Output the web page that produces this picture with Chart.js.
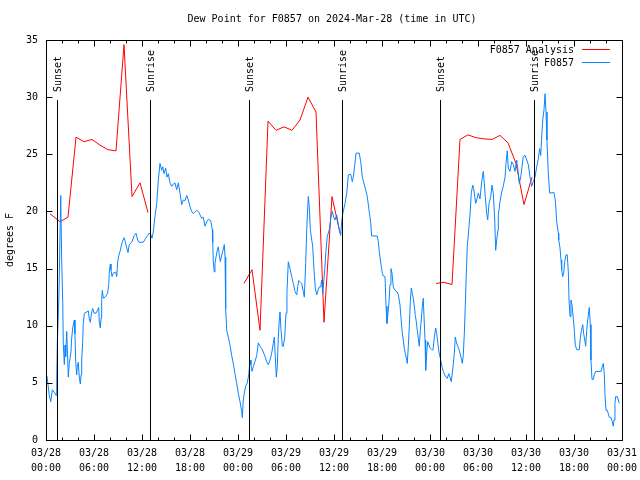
<!DOCTYPE html>
<html>
<head>
<meta charset="utf-8">
<title>Dew Point for F0857</title>
<script src="https://cdn.jsdelivr.net/npm/chart.js@4.4.1/dist/chart.umd.min.js"></script>
<style>
  html, body { margin: 0; padding: 0; background: #fff; }
  canvas { display: block; }
</style>
</head>
<body>
<canvas id="chart-dewpoint" width="640" height="480"></canvas>
<script>
// hours since 2024-03-28 00:00 UTC
var xTickDates = ["03/28", "03/28", "03/28", "03/28", "03/29", "03/29", "03/29", "03/29", "03/30", "03/30", "03/30", "03/30", "03/31"];
var xTickTimes = ["00:00", "06:00", "12:00", "18:00", "00:00", "06:00", "12:00", "18:00", "00:00", "06:00", "12:00", "18:00", "00:00"];

var sunsetHours = [1.4, 25.35, 49.3];
var sunriseHours = [13.04, 37.03, 61.02];

// F0857 Analysis (null = gap between runs)
var analysisHours = [
  0.5, 1.75, 2.75, 3.75, 4.75, 5.75, 6.75, 7.75, 8.75, 9.75, 10.75, 11.75, 12.75,
  18,
  24.75, 25.75, 26.75, 27.75, 28.75, 29.75, 30.75, 31.75, 32.75, 33.75, 34.75, 35.75, 36.75,
  43,
  48.75, 49.75, 50.75, 51.75, 52.75, 53.75, 54.75, 55.75, 56.75, 57.75, 58.75, 59.75, 60.75
];
var analysisDew = [
  19.8, 19.1, 19.5, 26.5, 26.1, 26.3, 25.8, 25.4, 25.3, 34.6, 21.3, 22.5, 19.9,
  null,
  13.7, 14.9, 9.6, 27.9, 27.1, 27.4, 27.1, 28.0, 30.0, 28.7, 10.3, 21.3, 18.1,
  null,
  13.7, 13.8, 13.6, 26.3, 26.7, 26.45, 26.35, 26.3, 26.65, 26.0, 24.2, 20.6, 23.0
];

// F0857 station observations
var stationHours = [
  0.12, 0.41, 0.59, 0.79, 1.12, 1.25, 1.34, 1.41, 1.62, 1.84,
  1.96, 2.09, 2.16, 2.29, 2.38, 2.46, 2.59, 2.79, 2.91, 3.12,
  3.21, 3.34, 3.54, 3.62, 3.71, 3.84, 3.91, 4.04, 4.16, 4.29,
  4.38, 4.46, 4.59, 4.66, 4.79, 5.09, 5.29, 5.41, 5.54, 5.71,
  5.84, 6.0, 6.25, 6.46, 6.59, 6.66, 6.79, 6.88, 6.96, 7.04,
  7.16, 7.38, 7.59, 7.71, 7.84, 7.91, 8.04, 8.12, 8.25, 8.41,
  8.71, 8.84, 8.96, 9.09, 9.25, 9.38, 9.54, 9.75, 9.91, 10.09,
  10.25, 10.41, 10.71, 11.04, 11.25, 11.46, 11.62, 12.16, 12.46, 12.71,
  12.88, 13.09, 13.25, 13.41, 13.62, 13.84, 14.04, 14.25, 14.46, 14.59,
  14.75, 14.96, 15.12, 15.29, 15.5, 15.71, 15.91, 16.12, 16.34, 16.54,
  16.75, 16.96, 17.16, 17.38, 17.59, 17.79, 18.0, 18.21, 18.41, 18.84,
  19.16, 19.25, 19.46, 19.66, 19.88, 20.09, 20.29, 20.59, 20.79, 20.84,
  20.91, 21.04, 21.12, 21.25, 21.41, 21.54, 21.66, 21.79, 21.91, 22.09,
  22.29, 22.38, 22.46, 22.59, 22.79, 23.0, 23.21, 23.41, 23.62, 23.84,
  24.04, 24.25, 24.46, 24.54, 24.66, 24.79, 24.96, 25.16, 25.34, 25.5,
  25.62, 25.75, 25.91, 26.12, 26.34, 26.54, 26.75, 26.96, 27.16, 27.38,
  27.59, 27.79, 28.0, 28.21, 28.41, 28.54, 28.66, 28.79, 28.91, 29.04,
  29.16, 29.25, 29.38, 29.54, 29.66, 29.84, 30.0, 30.12, 30.29, 30.5,
  30.71, 30.91, 31.12, 31.34, 31.46, 31.59, 31.75, 31.96, 32.16, 32.29,
  32.46, 32.59, 32.66, 32.79, 32.91, 33.04, 33.34, 33.5, 33.66, 33.84,
  34.0, 34.16, 34.34, 34.46, 34.59, 34.84, 35.0, 35.16, 35.41, 35.62,
  35.79, 35.96, 36.12, 36.34, 36.5, 36.66, 36.84, 36.96, 37.09, 37.38,
  37.59, 37.79, 38.09, 38.29, 38.41, 38.62, 38.75, 39.16, 39.34, 39.54,
  39.75, 39.96, 40.16, 40.38, 40.59, 40.71, 41.41, 41.54, 41.66, 41.79,
  41.91, 42.04, 42.16, 42.38, 42.5, 42.62, 42.75, 42.88, 43.0, 43.12,
  43.25, 43.41, 43.62, 43.84, 44.04, 44.25, 44.38, 44.5, 44.66, 44.79,
  44.91, 45.04, 45.16, 45.29, 45.41, 45.54, 45.66, 45.79, 45.91, 46.04,
  46.16, 46.29, 46.41, 46.54, 46.66, 46.79, 46.91, 47.04, 47.16, 47.25,
  47.38, 47.46, 47.59, 47.71, 47.88, 48.04, 48.21, 48.38, 48.54, 48.71,
  48.84, 48.96, 49.12, 49.38, 49.5, 49.66, 49.84, 50.0, 50.16, 50.34,
  50.5, 50.66, 50.91, 51.04, 51.16, 51.29, 51.41, 51.59, 51.75, 51.91,
  52.04, 52.16, 52.29, 52.41, 52.54, 52.66, 52.84, 53.04, 53.16, 53.34,
  53.46, 53.59, 53.71, 53.88, 54.04, 54.25, 54.46, 54.66, 54.79, 54.91,
  55.09, 55.21, 55.38, 55.59, 55.75, 55.91, 56.09, 56.21, 56.34, 56.5,
  56.54, 56.75, 56.96, 57.16, 57.38, 57.5, 57.66, 57.79, 58.0, 58.21,
  58.41, 58.62, 58.84, 59.04, 59.16, 59.34, 59.5, 59.66, 59.88, 60.09,
  60.29, 60.5, 60.71, 60.91, 61.12, 61.34, 61.54, 61.71, 61.84, 61.96,
  62.09, 62.25, 62.38, 62.5, 62.62, 62.79, 62.96, 63.5, 63.66, 63.84,
  64.04, 64.09, 64.25, 64.38, 64.46, 64.59, 64.71, 64.84, 65.0, 65.16,
  65.29, 65.38, 65.5, 65.62, 65.75, 65.91, 66.04, 66.16, 66.34, 66.66,
  66.79, 66.91, 67.09, 67.21, 67.34, 67.46, 67.59, 67.71, 67.84, 67.91,
  68.04, 68.12, 68.25, 68.41, 68.54, 68.71, 69.38, 69.54, 69.66, 69.79,
  69.88, 70.0, 70.16, 70.29, 70.41, 70.62, 70.79, 70.91, 71.0, 71.12,
  71.21, 71.41, 71.54, 71.66
];
var stationDew = [
  5.6, 3.9, 3.35, 4.4, 4.1, 3.9, 5.25, 8.3, 12.7, 21.4,
  15.75, 12.1, 8.5, 6.6, 8.3, 7.3, 9.5, 5.5, 6.7, 7.7,
  8.9, 9.8, 10.5, 9.3, 6.85, 5.7, 6.4, 6.8, 5.5, 4.9,
  5.7, 7.0, 8.6, 10.2, 11.1, 11.2, 11.3, 10.6, 10.3, 11.2,
  11.5, 11.1, 11.1, 11.4, 11.6, 10.35, 9.8, 10.65, 12.3, 13.1,
  12.4, 12.5, 12.7, 12.9, 13.6, 14.6, 15.4, 14.9, 14.3, 14.6,
  14.7, 14.3, 15.6, 16.1, 16.5, 16.9, 17.35, 17.7, 17.35, 16.8,
  16.4, 17.1, 17.3, 17.9, 18.1, 17.5, 17.3, 17.3, 17.65, 17.9,
  18.1, 18.0, 17.65, 18.2, 19.55, 20.7, 22.75, 24.2, 23.6, 23.9,
  23.3, 23.8, 23.0, 23.3, 22.5, 22.2, 22.4, 22.5, 21.9, 22.5,
  21.6, 20.6, 21.0, 20.95, 21.4, 21.0, 20.4, 20.0, 19.8, 20.1,
  19.9, 19.7, 19.4, 19.5, 18.7, 19.1, 19.3, 19.2, 18.4, 17.3,
  15.6, 14.7, 15.45, 16.0, 16.6, 16.9, 16.2, 15.6, 16.0, 16.5,
  17.1, 16.0, 11.5, 9.6, 9.0, 8.3, 7.4, 6.7, 5.8, 4.95,
  4.1, 3.35, 2.5, 1.95, 3.5, 4.1, 4.7, 5.0, 5.7, 7.0,
  6.6, 6.0, 6.4, 6.85, 7.4, 8.5, 8.2, 8.0, 7.7, 7.3,
  6.85, 6.6, 7.0, 7.6, 8.45, 9.0, 7.3, 5.5, 6.4, 9.0,
  10.5, 11.2, 9.6, 8.2, 8.2, 9.0, 11.1, 13.0, 15.6, 15.0,
  14.3, 13.7, 13.0, 12.7, 13.4, 13.95, 13.85, 13.7, 13.0, 12.5,
  15.45, 18.4, 19.5, 21.3, 20.4, 18.4, 16.9, 14.9, 13.3, 12.7,
  13.1, 13.4, 13.4, 14.0, 12.8, 14.9, 16.6, 17.8, 18.4, 19.5,
  20.0, 19.5, 19.25, 19.7, 19.0, 18.4, 17.9, 19.1, 19.8, 20.7,
  21.6, 23.2, 23.25, 22.6, 23.0, 24.2, 25.1, 25.1, 24.35, 23.0,
  22.45, 21.9, 21.3, 20.1, 19.0, 17.85, 17.85, 17.35, 16.5, 15.75,
  15.2, 14.6, 14.35, 14.3, 11.7, 10.2, 11.1, 12.1, 13.6, 15.0,
  14.6, 13.4, 13.1, 13.0, 12.7, 11.8, 10.65, 9.6, 8.75, 8.0,
  7.6, 7.15, 6.7, 8.2, 9.9, 12.1, 13.3, 12.8, 12.4, 11.7,
  10.9, 10.35, 9.6, 8.9, 8.2, 9.6, 10.5, 11.7, 12.4, 10.8,
  8.75, 6.1, 7.6, 8.6, 8.3, 8.0, 7.9, 7.9, 9.0, 9.8,
  9.3, 8.6, 7.7, 6.85, 6.4, 6.0, 5.7, 5.5, 5.4, 5.8,
  5.5, 5.1, 6.6, 7.6, 9.0, 8.6, 8.3, 8.0, 7.6, 7.15,
  6.7, 7.4, 9.3, 11.7, 14.6, 16.9, 18.4, 20.1, 21.6, 22.3,
  22.0, 21.3, 20.7, 21.1, 21.6, 21.1, 22.6, 23.5, 22.45, 21.3,
  19.8, 19.25, 20.7, 21.3, 22.3, 21.6, 19.25, 16.6, 17.5, 18.4,
  19.7, 20.85, 21.7, 22.2, 23.0, 24.2, 25.3, 23.8, 23.5, 24.35,
  24.1, 23.5, 24.5, 23.3, 22.45, 23.0, 23.9, 24.8, 24.9, 24.5,
  24.1, 23.0, 22.2, 22.6, 23.0, 23.9, 24.6, 25.5, 24.9, 26.5,
  28.0, 28.9, 30.3, 28.7, 26.25, 23.3, 21.6, 21.65, 21.0, 19.1,
  18.1, 17.5, 16.8, 15.75, 14.9, 14.3, 14.6, 15.6, 16.2, 16.2,
  14.7, 12.25, 10.8, 12.25, 11.8, 10.65, 9.6, 8.3, 7.9, 7.9,
  8.9, 9.5, 10.1, 9.3, 8.75, 8.2, 9.6, 10.5, 11.2, 11.6,
  10.1, 7.0, 5.3, 5.3, 5.7, 6.0, 6.0, 6.4, 6.7, 5.8,
  3.8, 2.6, 2.6, 2.3, 2.0, 1.95, 1.6, 1.2, 1.75, 3.2,
  3.8, 3.8, 3.5, 3.2
];

var FONT = '"DejaVu Sans Mono", "Liberation Mono", monospace';
var RED = "#ff0000";
var BLUE = "#0a84ff";

function toPoints(hours, values) {
  var pts = [];
  for (var i = 0; i < hours.length; i++) {
    pts.push({ x: hours[i], y: values[i] });
  }
  return pts;
}

/**
 * Draws the gnuplot style frame: border, inward ticks, sun markers, title and key.
 */
var gnuplotFrame = {
  id: "gnuplotFrame",
  afterDatasetsDraw: function (chart) {
    var ctx = chart.ctx;
    var a = chart.chartArea;
    var xs = chart.scales.x;
    var ys = chart.scales.y;
    ctx.save();
    ctx.strokeStyle = "#000";
    ctx.fillStyle = "#000";
    ctx.lineWidth = 1;
    ctx.font = "10px " + FONT;

    // sunset / sunrise markers
    var topY = Math.round(ys.getPixelForValue(29.75));
    function marker(h, label) {
      var px = Math.round(xs.getPixelForValue(h)) + 0.5;
      ctx.beginPath();
      ctx.moveTo(px, a.bottom);
      ctx.lineTo(px, topY);
      ctx.stroke();
      ctx.save();
      ctx.translate(px + 1, topY - 8);
      ctx.rotate(-Math.PI / 2);
      ctx.textAlign = "left";
      ctx.textBaseline = "middle";
      ctx.fillText(label, 0, 0);
      ctx.restore();
    }
    sunsetHours.forEach(function (h) { marker(h, "Sunset"); });
    sunriseHours.forEach(function (h) { marker(h, "Sunrise"); });

    // border
    var L = Math.round(a.left) + 0.5, R = Math.round(a.right) + 0.5;
    var T = Math.round(a.top) + 0.5, B = Math.round(a.bottom) + 0.5;
    ctx.strokeRect(L, T, R - L, B - T);

    // x ticks (major every 6h, minor every 2h), mirrored on top
    ctx.beginPath();
    for (var h = 0; h <= 72; h += 2) {
      var px = Math.round(xs.getPixelForValue(h)) + 0.5;
      var len = (h % 6 === 0) ? 6 : 3;
      ctx.moveTo(px, B); ctx.lineTo(px, B - len);
      ctx.moveTo(px, T); ctx.lineTo(px, T + len);
    }
    // y ticks, mirrored on the right
    for (var v = 0; v <= 35; v += 5) {
      var py = Math.round(ys.getPixelForValue(v)) + 0.5;
      ctx.moveTo(L, py); ctx.lineTo(L + 6, py);
      ctx.moveTo(R, py); ctx.lineTo(R - 6, py);
    }
    ctx.stroke();

    // title
    ctx.textAlign = "center";
    ctx.textBaseline = "middle";
    ctx.fillText("Dew Point for F0857 on 2024-Mar-28 (time in UTC)", 332, 19);

    // y axis title
    ctx.save();
    ctx.translate(10, (a.top + a.bottom) / 2);
    ctx.rotate(-Math.PI / 2);
    ctx.fillText("degrees F", 0, 0);
    ctx.restore();

    // key
    ctx.textAlign = "right";
    ctx.fillText("F0857 Analysis", 574, 50);
    ctx.fillText("F0857", 574, 63);
    ctx.strokeStyle = RED;
    ctx.beginPath(); ctx.moveTo(582, 49.5); ctx.lineTo(610, 49.5); ctx.stroke();
    ctx.strokeStyle = BLUE;
    ctx.beginPath(); ctx.moveTo(582, 62.5); ctx.lineTo(610, 62.5); ctx.stroke();

    ctx.restore();
  }
};

var dewChart = new Chart(document.getElementById("chart-dewpoint"), {
  type: "line",
  data: {
    datasets: [
      {
        label: "F0857 Analysis",
        data: toPoints(analysisHours, analysisDew),
        borderColor: RED,
        borderWidth: 1,
        pointRadius: 0,
        tension: 0,
        spanGaps: false,
        order: 1
      },
      {
        label: "F0857",
        data: toPoints(stationHours, stationDew),
        borderColor: BLUE,
        borderWidth: 1,
        pointRadius: 0,
        tension: 0,
        order: 0
      }
    ]
  },
  options: {
    responsive: false,
    animation: false,
    devicePixelRatio: 1,
    layout: { padding: { left: 0, right: 18, top: 40, bottom: 0 } },
    plugins: {
      legend: { display: false },
      title: { display: false },
      tooltip: { enabled: false }
    },
    scales: {
      x: {
        type: "linear",
        min: 0,
        max: 72,
        grid: { display: false, drawTicks: false },
        border: { display: false },
        ticks: {
          stepSize: 6,
          autoSkip: false,
          maxRotation: 0,
          padding: 6,
          color: "#000",
          font: { family: FONT, size: 10, lineHeight: 1.5 },
          callback: function (value) {
            var i = Math.round(value / 6);
            return [xTickDates[i], xTickTimes[i]];
          }
        },
        afterFit: function (scale) {
          scale.height = 40;
          scale.paddingLeft = 0;
          scale.paddingRight = 0;
        }
      },
      y: {
        min: 0,
        max: 35,
        grid: { display: false, drawTicks: false },
        border: { display: false },
        ticks: {
          stepSize: 5,
          padding: 8,
          color: "#000",
          font: { family: FONT, size: 10 }
        },
        afterFit: function (scale) {
          scale.width = 46;
          scale.paddingTop = 0;
          scale.paddingBottom = 0;
        }
      }
    }
  },
  plugins: [gnuplotFrame]
});
</script>
</body>
</html>
